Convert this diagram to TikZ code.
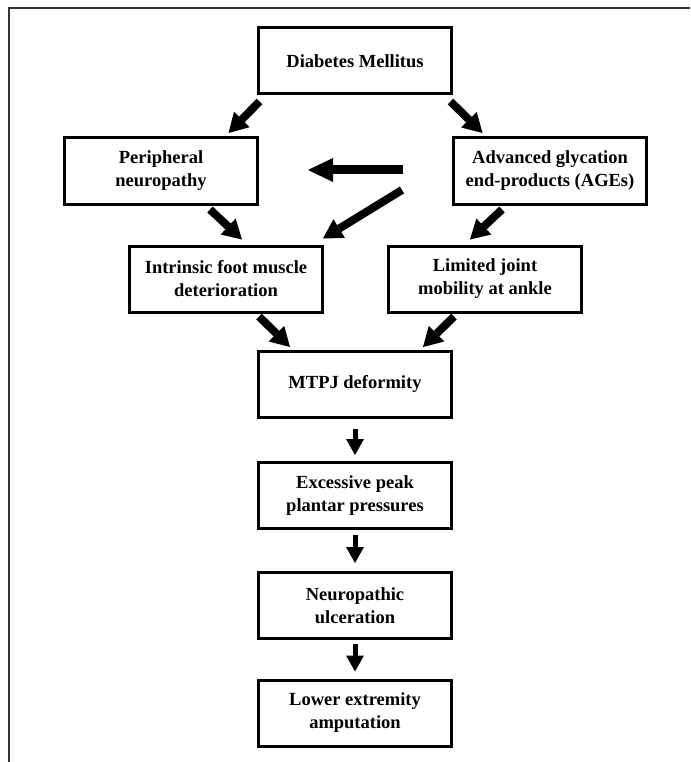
\documentclass[tikz,border=0pt]{standalone}
\usepackage{fontspec}
\setmainfont{Liberation Serif}
\usetikzlibrary{arrows.meta}

\begin{document}
\begin{tikzpicture}[x=1pt, y=-1pt, font=\fontsize{18.5}{23}\selectfont\bfseries,
  box/.style={draw, line width=3pt, minimum width=193pt, minimum height=66pt, inner sep=0pt, align=center},
  bigarrow/.style={line width=8pt, -{Triangle[length=19pt, width=22pt, line width=0pt]}},
  widearrow/.style={line width=9pt, -{Triangle[length=25pt, width=24pt, line width=0pt]}},
  smallarrow/.style={line width=5pt, -{Triangle[length=16pt, width=18pt, line width=0pt]}}]
  \useasboundingbox (0, 0) rectangle (690, 762);
  % Frame
  \draw[line width=1.5pt, black!80] (690, 8) -- (9, 8) -- (9, 762);

  % Top of the chart
  \node[box] (dm) at (355, 61) {Diabetes Mellitus};
  \node[box] (pn) at (161, 171) {Peripheral\\neuropathy};
  \node[box] (age) at (550, 171) {Advanced glycation\\end-products (AGEs)};
  \node[box] (ifm) at (226, 279) {Intrinsic foot muscle\\deterioration};
  \node[box] (ljm) at (485, 279) {Limited joint\\mobility at ankle};

  % Column below
  \node[box] (mtpj) at (355, 384) {MTPJ deformity};
  \node[box] (epp) at (355, 495.5) {Excessive peak\\plantar pressures};
  \node[box] (nu) at (355, 605.5) {Neuropathic\\ulceration};
  \node[box] (lea) at (355, 713) {Lower extremity\\amputation};

  % Free ends of the middle arrows
  \coordinate (mid1) at (403, 170);
  \coordinate (mid2) at (402, 190);

  % Fat arrows
  \draw[bigarrow] ([shift={(2.5, 6)}]dm.south west) -- ([shift={(-30.5, -3.5)}]pn.north east);
  \draw[bigarrow] ([shift={(-2.5, 6)}]dm.south east) -- ([shift={(30.5, -3.5)}]age.north west);
  \draw[widearrow] (mid1) -- (308, 170);
  \draw[bigarrow] (mid2) -- ([shift={(-1, -6)}]ifm.north east);
  \draw[bigarrow] ([shift={(147, 4)}]pn.south west) -- ([shift={(114, -5)}]ifm.north west);
  \draw[bigarrow] ([shift={(-146, 4)}]age.south east) -- ([shift={(-113, -5)}]ljm.north east);
  \draw[bigarrow] ([shift={(-65, 3)}]ifm.south east) -- ([shift={(33, -2.5)}]mtpj.north west);
  \draw[bigarrow] ([shift={(67, 3)}]ljm.south west) -- ([shift={(-30, -2.5)}]mtpj.north east);

  % Small arrows down the column
  \draw[smallarrow] ([shift={(0, 10)}]mtpj.south) -- ([shift={(0, -6)}]epp.north);
  \draw[smallarrow] ([shift={(0, 5)}]epp.south) -- ([shift={(0, -8)}]nu.north);
  \draw[smallarrow] ([shift={(0, 4)}]nu.south) -- ([shift={(0, -7)}]lea.north);
\end{tikzpicture}
\end{document}
